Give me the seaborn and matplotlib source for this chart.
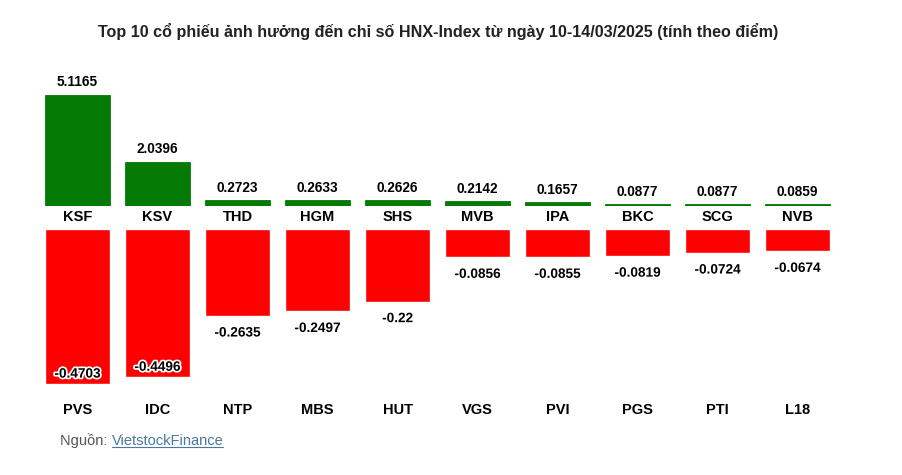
import matplotlib
matplotlib.use("Agg")
import matplotlib.pyplot as plt
import matplotlib.patheffects as pe
import seaborn as sns

# data
up_codes = ["KSF", "KSV", "THD", "HGM", "SHS", "MVB", "IPA", "BKC", "SCG", "NVB"]
up_vals = [5.1165, 2.0396, 0.2723, 0.2633, 0.2626, 0.2142, 0.1657, 0.0877, 0.0877, 0.0859]
down_codes = ["PVS", "IDC", "NTP", "MBS", "HUT", "VGS", "PVI", "PGS", "PTI", "L18"]
down_vals = [-0.4703, -0.4496, -0.2635, -0.2497, -0.22, -0.0856, -0.0855, -0.0819, -0.0724, -0.0674]

title = "Top 10 cổ phiếu ảnh hưởng đến chỉ số HNX-Index từ ngày 10-14/03/2025 (tính theo điểm)"
green = "#057a05"
red = "#ff0000"

sns.set_theme(style="white")
plt.rcParams["font.family"] = ["Liberation Sans", "DejaVu Sans"]

W, H = 902, 475
fig = plt.figure(figsize=(W / 100, H / 100), dpi=100)

def px_axes(left, top, right, bottom):
    return fig.add_axes([left / W, 1 - bottom / H, (right - left) / W, (bottom - top) / H])

ax1 = px_axes(37.5, 95, 837.5, 206)
ax2 = px_axes(37.5, 229, 837.5, 384)

sns.barplot(x=up_codes, y=up_vals, color=green, width=0.81, saturation=1,
            edgecolor=green, linewidth=0.6, ax=ax1)
sns.barplot(x=down_codes, y=down_vals, color=red, width=0.81, saturation=1, ax=ax2)

ax1.set_ylim(0, max(up_vals))
ax2.set_ylim(min(down_vals), 0)
for ax in (ax1, ax2):
    ax.set_xlim(-0.5, len(up_codes) - 0.5)
    ax.set_yticks([])
    ax.set_xlabel("")
    ax.set_ylabel("")
    for s in ax.spines.values():
        s.set_visible(False)
    ax.tick_params(axis="x", length=0, labelsize=10.5)
    for lab in ax.get_xticklabels():
        lab.set_fontweight("bold")
        lab.set_color("black")
ax1.tick_params(axis="x", pad=3)
ax2.tick_params(axis="x", pad=13.5)

halo = [pe.withStroke(linewidth=2.5, foreground="white")]
for i, v in enumerate(up_vals):
    ax1.annotate(f"{v:g}", (i, v), xytext=(0, 9), textcoords="offset points",
                 ha="center", va="center", fontsize=9.8, fontweight="bold",
                 color="black", annotation_clip=False)
for i, v in enumerate(down_vals):
    inside = abs(v) > 0.85 * abs(min(down_vals))
    off = 7.5 if inside else -12
    ax2.annotate(f"{v:g}", (i, v), xytext=(0, off), textcoords="offset points",
                 ha="center", va="center", fontsize=9.8, fontweight="bold",
                 color="black", path_effects=halo, annotation_clip=False)

fig.text(438 / W, 1 - 32 / H, title, ha="center", va="center",
         fontsize=11.6, fontweight="bold", color="#222222")

src = fig.text(60 / W, 1 - 441 / H, "Nguồn: ", ha="left", va="center",
               fontsize=10.5, color="#555555")
fig.canvas.draw()
r = fig.canvas.get_renderer()
bb = src.get_window_extent(r)
link = fig.text(bb.x1 / W, 1 - 441 / H, "VietstockFinance", ha="left", va="center",
                fontsize=10.5, color="#4a78a0")
lb = link.get_window_extent(r)
fig.add_artist(plt.Line2D([lb.x0 / W, lb.x1 / W], [(lb.y0 + 1) / H] * 2,
                          color="#4a78a0", linewidth=0.8))

fig.savefig("out.png", dpi=100)
